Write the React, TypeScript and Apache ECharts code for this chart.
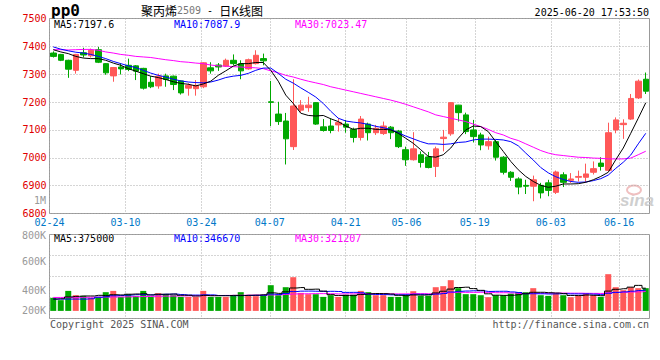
import React, { useEffect, useRef } from "react";
import * as echarts from "echarts";

// ---------- data ----------
const dates = [
  "02-24","02-25","02-26","02-27","02-28",
  "03-03","03-04","03-05","03-06","03-07","03-10","03-11","03-12","03-13","03-14",
  "03-17","03-18","03-19","03-20","03-21","03-24","03-25","03-26","03-27","03-28","03-31",
  "04-01","04-02","04-03","04-07","04-08","04-09","04-10","04-11","04-14","04-15","04-16","04-17","04-18",
  "04-21","04-22","04-23","04-24","04-25","04-28","04-29","04-30",
  "05-06","05-07","05-08","05-09","05-12","05-13","05-14","05-15","05-16",
  "05-19","05-20","05-21","05-22","05-23","05-26","05-27","05-28","05-29","05-30",
  "06-03","06-04","06-05","06-06","06-09","06-10","06-11","06-12","06-13",
  "06-16","06-17","06-18","06-19","06-20",
];
const labelDates = ["02-24","03-10","03-24","04-07","04-21","05-06","05-19","06-03","06-16"];

const opens = [7376,7371,7350,7314,7377,7366,7388,7338,7294,7326,7332,7330,7321,7271,7258,7294,7293,7276,7250,7248,
  7255,7323,7333,7329,7350,7338,7319,7338,7356,7201,7157,7132,7040,7171,7180,7198,7111,7114,7118,7121,
  7102,7073,7121,7090,7087,7110,7096,7029,6993,7011,7003,6969,7069,7086,7189,7154,7100,7082,7043,7058,
  7002,6948,6924,6901,6898,6901,6910,6876,6939,6919,6930,6930,6948,6981,6955,7100,7119,7139,7215,7282];
const closes = [7364,7350,7318,7371,7369,7386,7343,7305,7324,7319,7317,7311,7250,7255,7293,7281,7263,7233,7260,7260,
  7341,7312,7326,7350,7338,7312,7352,7368,7348,7199,7130,7068,7186,7189,7189,7121,7098,7098,7127,7110,
  7073,7139,7090,7106,7114,7090,7040,6993,7032,6983,6965,7032,7074,7198,7162,7094,7076,7046,7058,7002,
  6948,6930,6895,6898,6921,6874,6883,6949,6912,6924,6933,6942,6961,6969,7090,7136,7124,7213,7275,7239];
const lows = [7360,7347,7287,7302,7360,7360,7340,7298,7273,7299,7311,7279,7245,7250,7248,7255,7243,7227,7223,7223,
  7250,7302,7312,7326,7332,7282,7316,7335,7332,7114,7118,6976,7028,7162,7165,7118,7094,7088,7094,7090,
  7055,7062,7062,7082,7082,7067,7035,6971,6990,6965,6962,6931,7023,7079,7130,7085,7055,7027,7029,6990,
  6940,6917,6869,6870,6844,6854,6862,6870,6895,6910,6915,6912,6940,6954,6952,7088,7068,7136,7211,7229];
const highs = [7382,7373,7352,7373,7395,7392,7398,7340,7326,7340,7356,7333,7323,7293,7302,7302,7295,7278,7267,7279,
  7343,7343,7340,7356,7371,7350,7356,7386,7374,7276,7201,7161,7282,7207,7219,7200,7139,7142,7142,7136,
  7108,7150,7126,7118,7130,7114,7100,7040,7092,7023,7021,7040,7100,7200,7190,7162,7136,7090,7076,7064,
  7006,6952,6930,6921,6936,6910,6921,6954,6948,6945,6954,6979,6987,7002,7126,7145,7138,7229,7281,7306];

const ma5 = [7388,7380,7374,7364,7358,7356,7356,7350,7340,7332,7320,7311,7302,7293,7288,7281,7273,7267,7264,7258,
  7265,7275,7296,7312,7329,7338,7338,7342,7342,7314,7275,7225,7195,7160,7152,7150,7152,7140,7130,7114,
  7102,7106,7106,7102,7102,7100,7088,7070,7052,7029,7005,7002,7011,7035,7070,7100,7114,7112,7094,7058,
  7023,6987,6957,6933,6915,6901,6894,6898,6906,6906,6907,6912,6921,6933,6948,6993,7035,7088,7142,7197.6];
const ma10 = [7398,7390,7384,7379,7376,7371,7364,7356,7346,7338,7330,7324,7314,7304,7296,7290,7282,7276,7272,7270,
  7269,7272,7279,7288,7293,7296,7303,7314,7322,7322,7303,7282,7268,7251,7235,7218,7195,7167,7142,7132,
  7128,7125,7120,7113,7108,7102,7090,7078,7068,7058,7050,7050,7048,7050,7055,7057,7064,7067,7067,7066,
  7064,7058,7043,7017,6992,6965,6946,6932,6922,6915,6912,6913,6918,6925,6938,6962,6984,7010,7050,7087.9];
const ma30 = [7388,7388,7387,7388,7389,7389,7386,7380,7376,7371,7368,7364,7362,7360,7356,7352,7349,7345,7343,7340,
  7338,7333,7330,7329,7327,7326,7324,7323,7320,7312,7305,7296,7290,7282,7275,7269,7263,7255,7249,7243,
  7237,7231,7225,7219,7213,7207,7200,7192,7183,7174,7165,7154,7148,7142,7136,7130,7121,7112,7102,7090,
  7082,7070,7062,7050,7038,7026,7017,7011,7008,7005,7002,7001,6999,6998,6996,6996,6996,6999,7011,7023.47];

const volumes = [215000,177000,330000,259000,248000,215000,231000,309000,330000,231000,
  276000,248000,330000,231000,292000,276000,259000,231000,231000,231000,
  330000,231000,231000,231000,259000,309000,259000,243000,259000,424000,
  259000,391000,556000,297000,276000,276000,231000,259000,231000,269000,
  269000,330000,309000,259000,259000,231000,231000,269000,325000,248000,
  248000,391000,408000,507000,375000,276000,276000,259000,226000,259000,
  259000,285000,309000,309000,375000,259000,248000,285000,259000,226000,
  248000,292000,259000,231000,606000,391000,342000,391000,375000,375000];
const volMa5 = [195000,200000,230000,240000,246000,246000,257000,252000,267000,263000,
  275000,279000,283000,263000,275000,275000,278000,258000,258000,246000,
  256000,251000,251000,251000,256000,252000,258000,260000,266000,299000,
  289000,315000,378000,385000,356000,359000,327000,268000,255000,253000,
  252000,272000,282000,287000,285000,278000,258000,250000,263000,261000,
  264000,296000,324000,360000,386000,391000,368000,339000,282000,259000,
  256000,258000,268000,284000,307000,307000,300000,295000,285000,255000,
  253000,262000,257000,251000,327000,356000,366000,392000,421000,375000];
const volMa10 = [195000,195000,195000,195000,195000,200000,225000,235000,250000,255000,
  261000,268000,268000,265000,269000,275000,278000,270000,261000,261000,
  266000,264000,254000,254000,251000,254000,254000,256000,258000,278000,
  271000,287000,319000,326000,327000,324000,321000,323000,320000,305000,
  306000,299000,275000,271000,269000,265000,265000,266000,275000,273000,
  271000,277000,287000,312000,323000,328000,332000,331000,321000,323000,
  324000,313000,303000,283000,283000,282000,279000,281000,285000,281000,
  280000,281000,276000,268000,291000,305000,314000,325000,336000,346670];
const volMa30 = [222000,222000,223000,223000,224000,226000,227000,228000,230000,231000,
  233000,236000,238000,239000,242000,244000,245000,247000,249000,250000,
  252000,253000,254000,255000,256000,258000,259000,260000,262000,264000,
  266000,273000,280000,282000,283000,285000,285000,283000,280000,281000,
  281000,283000,283000,284000,283000,281000,280000,281000,284000,285000,
  282000,288000,294000,303000,307000,306000,306000,307000,306000,300000,
  300000,296000,288000,289000,292000,291000,292000,293000,294000,292000,
  292000,290000,289000,288000,299000,305000,308000,312000,314000,321207];

const priceLegend = ["MA5:7197.6", "MA10:7087.9", "MA30:7023.47"];
const volLegend = ["MA5:375000", "MA10:346670", "MA30:321207"];
const volTickLabels = ["800K", "600K", "400K", "200K"];

// ---------- style / layout ----------
const MONO = "'DejaVu Sans Mono', monospace";
const CJK = "'Noto Sans CJK SC', sans-serif";
const UP = "#ff5858";
const DOWN = "#00a800";
const MA_COLORS = ["#000000", "#0000ff", "#ff00ff"];
const GRID_LINE = { color: "#aaaaaa", type: [1, 2] as any, width: 1 };
const PX_PER_VOL = 16500; // volume units per pixel
const VOL_MIN = -7.6 * PX_PER_VOL;
const VOL_MAX = 76.4 * PX_PER_VOL;
const LEGEND_X = [54, 174, 295];
const VOL_LABEL_Y = [235.5, 261, 290.7, 310];

function buildOption() {
  const candleData = opens.map((o, i) => [o, closes[i], lows[i], highs[i]]);
  const volData = volumes.map((v, i) => ({
    value: v,
    itemStyle: { color: closes[i] >= opens[i] ? UP : DOWN },
  }));
  const isLabel = (i: number) => labelDates.includes(dates[i]);

  const lineSeries = (data: number[], color: string, xi: number, yi: number, step?: any) => ({
    type: "line",
    xAxisIndex: xi,
    yAxisIndex: yi,
    data,
    symbol: "none",
    showSymbol: false,
    step: step || false,
    silent: true,
    lineStyle: { color, width: 1 },
    z: 5,
  });

  const txt = (text: string, x: number, y: number, fill: string, font: string, align = "left", extra: any = {}) => ({
    type: "text",
    x,
    y,
    silent: true,
    style: { text, fill, font, textAlign: align, textVerticalAlign: "middle", ...extra },
  });

  const graphic: any[] = [
    txt("pp0", 51, 10, "#000", `bold 16px ${MONO}`),
    {
      type: "text",
      x: 141,
      y: 10,
      silent: true,
      style: {
        text: "{a|聚丙烯}{b|2509}{c| - }{a|日K线图}",
        textAlign: "left",
        textVerticalAlign: "middle",
        rich: {
          a: { fontFamily: CJK, fontSize: 12, fill: "#000", color: "#000" },
          b: { fontFamily: MONO, fontSize: 10, fill: "#777", color: "#777" },
          c: { fontFamily: MONO, fontSize: 10, fill: "#000", color: "#000" },
        },
      },
    },
    txt("2025-06-20 17:53:50", 649, 12, "#000", `10px ${MONO}`, "right"),
    txt("1M", 46, 200.5, "#999", `10px ${MONO}`, "right"),
    txt("Copyright 2025 SINA.COM", 50, 324, "#555", `10px ${MONO}`),
    txt("http://finance.sina.com.cn", 649, 324, "#555", `10px ${MONO}`, "right"),
    txt("sina", 620, 200, "#cfcfcf", `italic bold 17px 'Liberation Sans', sans-serif`),
    {
      type: "ellipse",
      silent: true,
      shape: { cx: 634, cy: 190, rx: 7, ry: 4.5 },
      style: { fill: "none", stroke: "#f0c0c0", lineWidth: 2 },
    },
  ];
  priceLegend.forEach((t, i) => graphic.push(txt(t, LEGEND_X[i], 24, MA_COLORS[i], `10px ${MONO}`)));
  volLegend.forEach((t, i) => graphic.push(txt(t, LEGEND_X[i], 238.5, MA_COLORS[i], `10px ${MONO}`)));
  volTickLabels.forEach((t, i) => graphic.push(txt(t, 46, VOL_LABEL_Y[i], "#999", `10px ${MONO}`, "right")));

  return {
    animation: false,
    backgroundColor: "#ffffff",
    grid: [
      { left: 49.5, top: 18.5, width: 600, height: 195, show: true, borderColor: "#999", borderWidth: 1, backgroundColor: "transparent" },
      { left: 49.5, top: 234.5, width: 600, height: 84, show: true, borderColor: "#999", borderWidth: 1, backgroundColor: "transparent" },
    ],
    xAxis: [
      { type: "category", gridIndex: 0, data: dates, boundaryGap: true, show: false },
      {
        type: "category",
        gridIndex: 0,
        position: "bottom",
        data: dates,
        boundaryGap: false,
        axisLine: { show: false },
        axisTick: { show: false },
        axisLabel: {
          interval: (i: number) => isLabel(i),
          color: "#0078c8",
          fontFamily: MONO,
          fontSize: 10,
          margin: 4,
        },
        splitLine: { show: true, interval: (i: number) => isLabel(i), lineStyle: GRID_LINE },
      },
      { type: "category", gridIndex: 1, data: dates, boundaryGap: true, show: false },
      {
        type: "category",
        gridIndex: 1,
        position: "bottom",
        data: dates,
        boundaryGap: false,
        axisLine: { show: false },
        axisTick: { show: false },
        axisLabel: { show: false },
        splitLine: { show: true, interval: (i: number) => isLabel(i), lineStyle: GRID_LINE },
      },
    ],
    yAxis: [
      {
        type: "value",
        gridIndex: 0,
        min: 6800,
        max: 7500,
        interval: 100,
        axisLine: { show: false },
        axisTick: { show: false },
        axisLabel: {
          color: "#e00000",
          fontFamily: MONO,
          fontSize: 10,
          margin: 3,
          padding: [0, 0, 4, 0],
          formatter: (v: number) => String(v),
        },
        splitLine: { show: true, lineStyle: GRID_LINE },
      },
      { type: "value", gridIndex: 1, min: VOL_MIN, max: VOL_MAX, show: false },
      {
        type: "value",
        gridIndex: 1,
        position: "left",
        min: 0,
        max: 4,
        interval: 1,
        axisLine: { show: false },
        axisTick: { show: false },
        axisLabel: { show: false },
        splitLine: { show: true, lineStyle: GRID_LINE },
      },
    ],
    series: [
      {
        type: "candlestick",
        xAxisIndex: 0,
        yAxisIndex: 0,
        data: candleData,
        barWidth: 6,
        silent: true,
        itemStyle: { color: UP, color0: DOWN, borderColor: UP, borderColor0: DOWN, borderWidth: 1 },
      },
      lineSeries(ma30, MA_COLORS[2], 0, 0),
      lineSeries(ma10, MA_COLORS[1], 0, 0),
      lineSeries(ma5, MA_COLORS[0], 0, 0),
      { type: "bar", xAxisIndex: 2, yAxisIndex: 1, data: volData, barWidth: 6, silent: true },
      lineSeries(volMa30, MA_COLORS[2], 2, 1, "middle"),
      lineSeries(volMa10, MA_COLORS[1], 2, 1, "middle"),
      lineSeries(volMa5, MA_COLORS[0], 2, 1, "middle"),
    ],
    graphic,
  };
}

export default function App() {
  const ref = useRef<HTMLDivElement>(null);
  useEffect(() => {
    if (!ref.current) return;
    const chart = echarts.init(ref.current, undefined, { renderer: "svg" });
    chart.setOption(buildOption() as any);
    return () => chart.dispose();
  }, []);
  return (
    <div
      ref={ref}
      style={{ position: "absolute", left: 0, top: 0, width: 660, height: 360, background: "#fff" }}
    />
  );
}
